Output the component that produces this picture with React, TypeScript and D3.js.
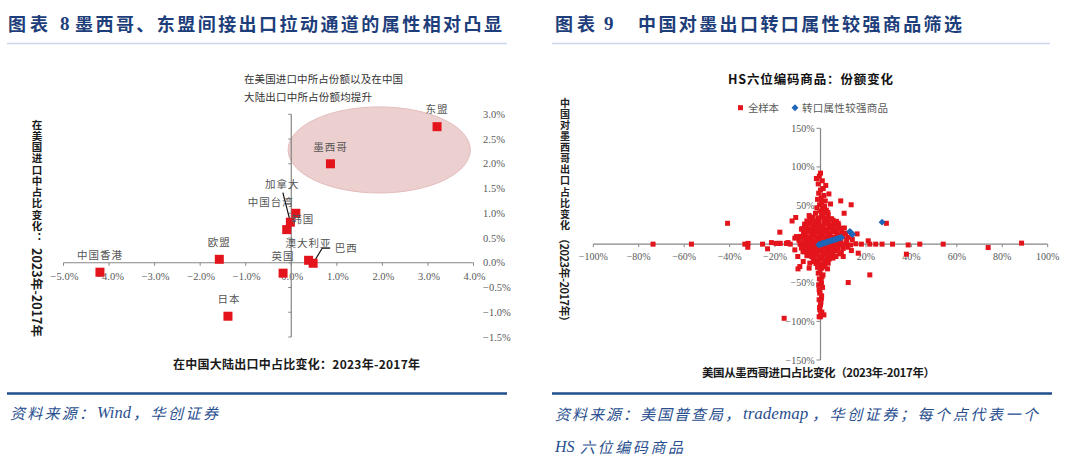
import React from 'react';
import * as d3 from 'd3';

const CJK = '"Noto Sans CJK SC", "Noto Sans", sans-serif';
const SERIF = '"Liberation Serif", "Noto Sans CJK SC", serif';
const NAVY = '#1d3e7a';
const FOOT = '#2a4f8f';
const RED = '#e3141b';
const BLUE = '#1e66b8';
const AXIS = '#868686';
const TICKTXT = '#595959';

// ---------- Figure 8 data ----------
const regionNames = ['东盟', '墨西哥', '韩国', '加拿大', '中国台湾', '澳大利亚', '巴西', '英国', '欧盟', '中国香港', '日本'];
// change of share in China-mainland exports, 2023-2017 (%)
const cnExportShareChange = [3.2, 0.86, 0.1, -0.02, -0.1, 0.38, 0.48, -0.18, -1.58, -4.2, -1.39];
// change of share in US imports, 2023-2017 (%)
const usImportShareChange = [2.75, 2.0, 1.0, 0.82, 0.67, 0.05, -0.01, -0.21, 0.07, -0.19, -1.08];
const leftXTicks = [-5, -4, -3, -2, -1, 0, 1, 2, 3, 4];
const leftYTicks = [-1.5, -1, -0.5, 0, 0.5, 1, 1.5, 2, 2.5, 3];
const annotationLines = ['在美国进口中所占份额以及在中国', '大陆出口中所占份额均提升'];

// ---------- Figure 9 data ----------
// [US import share change from Mexico %, China export share change to Mexico %]
const fullSample: [number, number][] = [
  [-73.7, 0], [-56.8, 0], [-40.9, 27], [-33.3, 0], [-31.9, 1], [-32, -4], [-25.5, 0], [-23.3, -6], [-21.6, 2],
  [-19.6, 1], [-17.7, 1], [-17.9, 15.5], [-18.2, 1], [-15, 1], [-14.5, 1], [-14.3, 2], [-13.3, 0], [-11.3, 7.8],
  [-12.5, 30], [-10.9, 34.5], [-5, 37], [-4.7, 31], [-1.8, 85], [0, 92], [-1.5, 85], [2.3, 76], [3.7, 65],
  [8.9, 56], [4.4, 52], [13.5, 51], [10.4, 40], [3.2, 41], [7.8, 27], [6.7, 27], [16.1, 13.3], [29, 27],
  [18, 0], [21.7, 0], [21, 4.3], [24.3, 0], [27.1, 0], [31.7, 0], [38.6, -1], [43.7, 0], [54, 0], [73.8, -4.4],
  [88.5, 1.3], [37.8, -13], [21.7, -39.8], [12.2, -49.7], [13.6, -8.3], [10, -16], [16.6, -11.7], [3.1, -32],
  [-5, -31], [0, -94], [1.5, -91.6], [-16, -96], [-9.9, -32], [-9.1, -29], [-10, -16], [-7.6, -22.5],
  [-1, -37.6], [-0.6, -59], [-0.6, -94], [-10.6, 9.8], [-8.4, 19.4], [-6.9, 26], [-6.2, 5.6], [-3.3, 18.5],
  [-11.3, -7.4], [-7.7, -9.6], [-6.2, -5.2], [-4.4, -13.9], [-4.7, -24.6], [-2.8, -22.5], [8.5, -12.6],
  [3.4, -24.6], [5.5, -18], [1.1, -39.8], [0.4, -50.5], [-0.3, -63.5], [0.4, -70], [0, -78.6], [-0.3, -85],
  [-0.5, 88], [0.8, 82], [-1, 78], [1.2, 72], [0, 70], [-0.8, 66], [1.5, 63], [0.3, 60], [-1.3, 58], [2.1, 56],
  [0.6, 54], [-0.4, 51], [1.8, 49], [-1.6, 47], [0.9, 46], [2.6, 44], [-0.2, 43], [1.3, 41], [-2.2, 40],
  [3.4, 38], [0.4, 38],
  [-3.5, 35], [-1.2, 34], [1, 35.5], [2.7, 34], [4.8, 33],
  [-6, 30], [-4, 31], [-2.5, 29.5], [-0.6, 30.5], [1.6, 30], [3.5, 29], [5.5, 31], [7, 29.5],
  [-7, 25], [-5.2, 26], [-3.4, 24.5], [-1.5, 25.5], [0.2, 24], [2.2, 26], [4, 24.5], [6, 25.5], [8, 24],
  [-8, 20], [-6.1, 21], [-4.3, 19.5], [-2.6, 20.5], [-0.8, 19], [1, 20.5], [2.9, 19.5], [4.7, 21], [6.6, 19.5], [8.5, 20.5], [10.5, 21],
  [-7.5, 15], [-5.5, 16], [-3.8, 14.5], [-2, 15.5], [-0.2, 14], [1.7, 15.5], [3.5, 14.5], [5.4, 16], [7.2, 14.5], [9.3, 15.5], [11, 14],
  [-8.8, 10], [-6.8, 11], [-5, 9.5], [-3.2, 10.5], [-1.4, 9.5], [0.5, 11], [2.3, 9.5], [4.2, 10.5], [6, 9], [7.8, 11], [10, 10], [12.2, 9],
  [-9.5, 5], [-7.4, 6], [-5.6, 4.5], [-3.8, 5.5], [-2, 4], [-0.2, 6], [1.6, 4.5], [3.5, 5.5], [5.3, 4], [7.1, 5.5], [9, 4.5], [11.5, 5], [14, 6],
  [-9, 0], [-7.2, 1], [-5.4, -0.5], [-3.6, 0.5], [-1.8, -1], [0, 0.5], [1.8, -0.5], [3.6, 1], [5.4, -1], [7.2, 0.5], [9.2, -0.5], [11.3, 0.5], [13.2, -1], [15.5, 0.5],
  [-8.4, -5], [-6.6, -4], [-4.8, -5.5], [-3, -4.5], [-1.2, -6], [0.6, -4.5], [2.4, -5.5], [4.2, -4], [6, -6], [7.8, -4.5], [10, -5.5], [12, -4],
  [-7.2, -10], [-5.4, -11], [-3.6, -9.5], [-1.8, -10.5], [0, -9], [1.8, -11], [3.6, -9.5], [5.4, -10.5], [7.2, -9], [9.2, -11],
  [-6, -15], [-3.9, -16], [-2.2, -14.5], [-0.4, -15.5], [1.4, -14], [3.2, -16], [5, -14.5], [6.8, -16],
  [-3.2, -20], [-1.3, -21], [0.5, -19.5], [2.2, -20.5], [4, -19],
  [-2, -25], [-0.1, -26], [1.8, -24.5],
  [-1.3, -30], [0.6, -31], [1.9, -29],
  [-0.2, -35], [0.7, -42], [-0.5, -45], [0.3, -48], [-0.8, -53], [0.9, -56], [-0.3, -62], [0.5, -67],
  [-0.6, -72], [0.2, -75], [-0.4, -82], [0.6, -88], [0.1, -90],
];
const reExportGoods: [number, number][] = [
  [-0.8, -0.7], [-0.3, -0.3], [0.3, 0.3], [0.8, 0.8], [1.4, 1.3], [2, 1.9], [2.6, 2.4], [3.2, 3], [3.8, 3.6],
  [4.4, 4.2], [5, 4.7], [5.6, 5.3], [6.2, 5.9], [6.8, 6.4], [7.4, 7], [8, 7.6], [8.6, 8.1], [9.2, 8.7],
  [12.9, 16.3], [13.3, 15], [13.8, 13.5], [14.1, 12.4], [27.1, 28.5],
];
const rightXTicks = [-100, -80, -60, -40, -20, 0, 20, 40, 60, 80, 100];
const rightYTicks = [-150, -100, -50, 0, 50, 100, 150];

// label placement (pixel offsets from the point)
const labelOffsets: Record<string, [number, number]> = {
  东盟: [0, -18], 墨西哥: [0, -17], 韩国: [7, 5], 加拿大: [-8, -39], 中国台湾: [-16, -28],
  澳大利亚: [0, -18], 巴西: [33, -16], 英国: [0, -18], 欧盟: [0, -18], 中国香港: [0, -18], 日本: [1, -18],
};

function VText({ text, x, y, len, size, weight, fill }: { text: string; x: number; y: number; len: number; size: number; weight: any; fill: string }) {
  return (
    <text x={x} y={y} style={{ writingMode: 'vertical-rl' } as any} fontFamily={CJK} fontSize={size} fontWeight={weight}
      fill={fill} textLength={len} lengthAdjust="spacing">{text}</text>
  );
}

function Seg({ x, y, len, text, latin, size = 15, adjust = 'spacing' }: { x: number; y: number; len?: number; text: string; latin?: boolean; size?: number; adjust?: string }) {
  return (
    <text x={x} y={y} dominantBaseline="central" fontFamily={latin ? SERIF : CJK} fontStyle="italic" fontSize={size} fill={FOOT}
      textLength={len} lengthAdjust={adjust as any}>{text}</text>
  );
}

export default function App() {
  const xL = d3.scaleLinear().domain([-5, 4]).range([63.5, 473.5]);
  const yL = d3.scaleLinear().domain([-1.5, 3]).range([337, 114.3]);
  const xR = d3.scaleLinear().domain([-100, 100]).range([593.3, 1047.7]);
  const yR = d3.scaleLinear().domain([-150, 150]).range([360, 128.3]);
  const fmtL = (v: number) => d3.format('.1f')(v) + '%';
  const fmtR = (v: number) => d3.format('d')(v) + '%';
  const diamond = d3.symbol(d3.symbolSquare, 24)() as string;

  // ellipse highlighting Mexico / ASEAN
  const eC = [1.93, 2.28];
  const eR = [2.0, 0.87];
  const ecx = xL(eC[0]), ecy = yL(eC[1]);
  const erx = xL(eC[0] + eR[0]) - ecx, ery = ecy - yL(eC[1] + eR[1]);

  const pts = regionNames.map((n, i) => ({ n, px: xL(cnExportShareChange[i]), py: yL(usImportShareChange[i]) }));
  const canada = pts[3];
  const brazil = pts[6];

  return (
    <svg width={1080} height={463} style={{ position: 'absolute', left: 0, top: 0, background: '#fff' }}>
      {/* ===== Titles ===== */}
      <text x={8} y={23} dominantBaseline="central" fontFamily={CJK} fontWeight="bold" fontSize={18} fill={NAVY} textLength={40} lengthAdjust="spacing">图表</text>
      <text x={60} y={23} dominantBaseline="central" fontFamily={SERIF} fontWeight="bold" fontSize={19} fill={NAVY}>8</text>
      <text x={75} y={23} dominantBaseline="central" fontFamily={CJK} fontWeight="bold" fontSize={18} fill={NAVY} textLength={427} lengthAdjust="spacing">墨西哥、东盟间接出口拉动通道的属性相对凸显</text>
      <line x1={7} x2={507} y1={43.5} y2={43.5} stroke="#c9d7ea" strokeWidth={1.5} />

      <text x={555} y={23} dominantBaseline="central" fontFamily={CJK} fontWeight="bold" fontSize={18} fill={NAVY} textLength={40} lengthAdjust="spacing">图表</text>
      <text x={604} y={23} dominantBaseline="central" fontFamily={SERIF} fontWeight="bold" fontSize={19} fill={NAVY}>9</text>
      <text x={638} y={23} dominantBaseline="central" fontFamily={CJK} fontWeight="bold" fontSize={18} fill={NAVY} textLength={324} lengthAdjust="spacing">中国对墨出口转口属性较强商品筛选</text>
      <line x1={552} x2={1050} y1={43.5} y2={43.5} stroke="#c9d7ea" strokeWidth={1.5} />

      {/* ===== Left chart ===== */}
      <ellipse cx={ecx} cy={ecy} rx={erx} ry={ery} fill="#eccfcf" stroke="#e4bdbd" strokeWidth={1} />
      {annotationLines.map((t, i) => (
        <text key={t} x={244} y={78 + i * 18.5} dominantBaseline="central" fontFamily={CJK} fontSize={10.5} fill="#333"
          textLength={i === 0 ? 159 : 128} lengthAdjust="spacing">{t}</text>
      ))}
      {/* x axis */}
      <line x1={xL(-5)} x2={xL(4)} y1={yL(0)} y2={yL(0)} stroke={AXIS} strokeWidth={1.2} />
      {leftXTicks.map(t => (
        <g key={t}>
          <line x1={xL(t)} x2={xL(t)} y1={yL(0)} y2={yL(0) + 3} stroke={AXIS} />
          <text x={xL(t) + 1} y={yL(0) + 14} textAnchor="middle" dominantBaseline="central" fontFamily={SERIF} fontSize={10.5} fill={TICKTXT}>{fmtL(t)}</text>
        </g>
      ))}
      {/* y axis */}
      <line x1={xL(0)} x2={xL(0)} y1={yL(-1.5)} y2={yL(3)} stroke={AXIS} strokeWidth={1.2} />
      {leftYTicks.map(t => (
        <g key={t}>
          <line x1={xL(0) - 3} x2={xL(0)} y1={yL(t)} y2={yL(t)} stroke={AXIS} />
          <text x={483} y={yL(t)} dominantBaseline="central" fontFamily={SERIF} fontSize={10.5} fill={TICKTXT}>{fmtL(t)}</text>
        </g>
      ))}
      {/* leader lines */}
      <line x1={canada.px + labelOffsets['加拿大'][0] + 0.5} y1={canada.py + labelOffsets['加拿大'][1] + 9.5} x2={canada.px} y2={canada.py} stroke="#111" strokeWidth={1.2} />
      <polyline points={`${brazil.px},${brazil.py} ${brazil.px + 9},${brazil.py - 15} ${brazil.px + 17},${brazil.py - 15}`} fill="none" stroke="#111" strokeWidth={1.2} />
      {pts.map(p => (
        <rect key={p.n} x={p.px - 4.5} y={p.py - 4.5} width={9} height={9} fill={RED} />
      ))}
      {pts.map(p => (
        <text key={'l' + p.n} x={p.px + labelOffsets[p.n][0]} y={p.py + labelOffsets[p.n][1]} textAnchor="middle" dominantBaseline="central"
          fontFamily={CJK} fontSize={10.5} letterSpacing={1} fill="#555">{p.n}</text>
      ))}
      {/* axis titles */}
      <VText text="在美国进口中占比变化：" x={37} y={119.5} len={123} size={10.5} weight="bold" fill="#1a1a1a" />
      <text transform="translate(37,248) rotate(90)" dominantBaseline="central" fontFamily={CJK} fontWeight="bold" fontSize={12.5} fill="#1a1a1a" textLength={89} lengthAdjust="spacing">2023年-2017年</text>
      <text x={173} y={363} dominantBaseline="central" fontFamily={CJK} fontSize={12} fill="#1a1a1a" textLength={247} lengthAdjust="spacing">
        <tspan fontWeight={600}>在中国大陆出口中占比变化：</tspan><tspan fontWeight="bold">2023年-2017年</tspan>
      </text>

      {/* ===== Right chart ===== */}
      <text x={728} y={78} dominantBaseline="central" fontFamily={CJK} fontWeight="bold" fontSize={12.5} fill="#111" textLength={165} lengthAdjust="spacing">HS六位编码商品：份额变化</text>
      <rect x={738} y={105.2} width={5} height={5} fill={RED} />
      <text x={748} y={107.7} dominantBaseline="central" fontFamily={CJK} fontSize={10.5} fill={TICKTXT} textLength={31} lengthAdjust="spacing">全样本</text>
      <path d={diamond} transform="translate(795,107.7) rotate(45)" fill={BLUE} />
      <text x={802} y={107.7} dominantBaseline="central" fontFamily={CJK} fontSize={10.5} fill={TICKTXT} textLength={86} lengthAdjust="spacing">转口属性较强商品</text>

      <line x1={xR(-100)} x2={xR(100)} y1={yR(0)} y2={yR(0)} stroke={AXIS} strokeWidth={1.2} />
      {rightXTicks.map(t => (
        <g key={t}>
          <line x1={xR(t)} x2={xR(t)} y1={yR(0)} y2={yR(0) + 3} stroke={AXIS} />
          <text x={xR(t)} y={yR(0) + 12} textAnchor="middle" dominantBaseline="central" fontFamily={SERIF} fontSize={10} fill={TICKTXT}>{fmtR(t)}</text>
        </g>
      ))}
      <line x1={xR(0)} x2={xR(0)} y1={yR(-150)} y2={yR(150)} stroke={AXIS} strokeWidth={1.2} />
      {rightYTicks.map(t => (
        <g key={t}>
          <line x1={xR(0) - 4} x2={xR(0)} y1={yR(t)} y2={yR(t)} stroke={AXIS} />
          <text x={xR(0) - 6} y={yR(t)} textAnchor="end" dominantBaseline="central" fontFamily={SERIF} fontSize={10} fill={TICKTXT}>{fmtR(t)}</text>
        </g>
      ))}
      {fullSample.map((d, i) => (
        <rect key={'r' + i} x={xR(d[0]) - 2.5} y={yR(d[1]) - 2.5} width={5} height={5} fill={RED} />
      ))}
      {reExportGoods.map((d, i) => (
        <path key={'b' + i} d={diamond} transform={`translate(${xR(d[0])},${yR(d[1])}) rotate(45)`} fill={BLUE} />
      ))}
      <VText text="中国对墨西哥出口占比变化" x={565} y={98} len={132} size={10} weight={600} fill="#222" />
      <text transform="translate(565,233) rotate(90)" dominantBaseline="central" fontFamily={CJK} fontWeight="bold" fontSize={11} fill="#222" textLength={94} lengthAdjust="spacing">（2023年-2017年）</text>
      <text x={702} y={372} dominantBaseline="central" fontFamily={CJK} fontSize={11.5} fill="#1a1a1a" textLength={233} lengthAdjust="spacing">
        <tspan fontWeight={600}>美国从墨西哥进口占比变化（</tspan><tspan fontWeight="bold">2023年-2017年</tspan><tspan fontWeight={600}>）</tspan>
      </text>

      {/* ===== Footers ===== */}
      <line x1={7} x2={507} y1={393.5} y2={393.5} stroke="#1f4e8c" strokeWidth={2.5} />
      <Seg x={10} y={412} len={84} text="资料来源：" />
      <Seg x={97} y={412} text="Wind" latin size={16.5} />
      <Seg x={133} y={412} len={85} text="，华创证券" />

      <line x1={552} x2={1052} y1={393.5} y2={393.5} stroke="#1f4e8c" strokeWidth={2.5} />
      <Seg x={555} y={413} len={185} text="资料来源：美国普查局，" />
      <Seg x={743} y={413} text="trademap" latin size={17} />
      <Seg x={812} y={413} len={226} text="，华创证券；每个点代表一个" />
      <Seg x={555} y={446.5} text="HS" latin size={16} />
      <Seg x={580} y={446.5} len={103} text="六位编码商品" />
    </svg>
  );
}
